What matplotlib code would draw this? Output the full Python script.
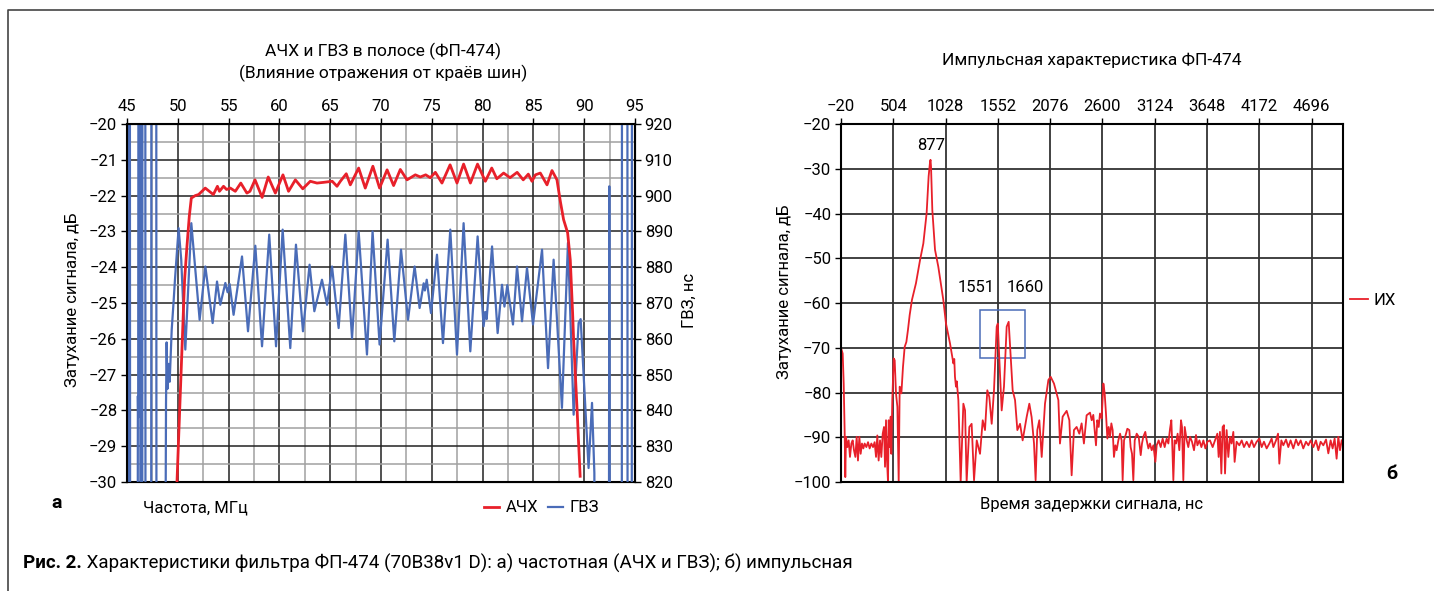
import matplotlib
matplotlib.use('Agg')
import matplotlib.pyplot as plt
from matplotlib.lines import Line2D
from matplotlib.patches import Rectangle
from matplotlib.ticker import MultipleLocator

plt.rcParams['font.family'] = ['Roboto', 'DejaVu Sans']
plt.rcParams['font.size'] = 12

RED = '#e8202a'
BLUE = '#4a6cb8'

# --- left chart: АЧХ (dB) and ГВЗ (ns) vs frequency, MHz
achx_f = [49.92, 50.58, 50.67, 50.90, 51.13, 51.33, 51.72, 52.05, 52.38, 52.70,
          53.10, 53.50, 53.90, 54.10, 54.50, 54.80, 55.17, 55.66, 56.20, 56.80,
          57.10, 57.60, 58.30, 58.90, 59.60, 60.35, 60.90, 61.57, 62.30, 63.04,
          63.70, 64.35, 65.20, 65.67, 66.00, 66.58, 66.98, 67.80, 68.45, 69.20,
          69.86, 70.60, 71.24, 71.90, 72.56, 73.38, 73.87, 74.40, 74.85, 75.35,
          76.00, 76.80, 77.48, 78.13, 78.80, 79.50, 80.27, 80.90, 81.40, 82.07,
          82.70, 83.40, 84.00, 84.50, 84.86, 85.20, 85.68, 86.34, 86.83, 87.32,
          87.65, 87.97, 88.37, 88.63, 88.86, 88.96, 89.30, 89.60]
achx_db = [-30.0, -25.0, -24.35, -23.42, -22.58, -22.07, -22.00, -21.97, -21.88, -21.79,
           -21.88, -21.97, -21.74, -21.88, -21.74, -21.83, -21.79, -21.88, -21.65, -21.93,
           -21.88, -21.56, -22.05, -21.48, -21.93, -21.42, -21.88, -21.56, -21.81, -21.60,
           -21.65, -21.63, -21.60, -21.74, -21.60, -21.39, -21.70, -21.23, -21.79, -21.18,
           -21.79, -21.28, -21.72, -21.27, -21.56, -21.42, -21.48, -21.42, -21.50, -21.35,
           -21.65, -21.14, -21.65, -21.12, -21.65, -21.12, -21.60, -21.23, -21.53, -21.37,
           -21.50, -21.35, -21.56, -21.40, -21.60, -21.42, -21.37, -21.70, -21.30, -21.56,
           -22.16, -22.67, -23.04, -23.80, -25.28, -26.03, -27.98, -29.84]

# off-scale values (960 / 780) give the full-height strokes at the band edges
gvz_f = [45.12, 45.15, 45.28, 45.31, 46.05, 46.07, 46.10, 46.13, 46.30, 46.32,
         46.50, 46.52, 46.80, 46.82, 47.38, 47.40, 47.88, 47.90, 48.76, 48.84,
         48.90, 48.98, 49.10, 49.20, 49.40, 49.60, 49.72, 50.08, 50.34, 50.57,
         50.74, 51.33, 52.15, 52.71, 53.43, 53.86, 54.18, 54.68, 54.90, 55.10,
         55.49, 56.32, 56.91, 57.63, 58.29, 59.00, 59.67, 60.32, 61.07, 61.63,
         62.32, 62.97, 63.44, 64.19, 64.69, 65.18, 65.83, 66.49, 67.15, 67.80,
         68.62, 69.17, 69.86, 70.65, 71.31, 71.97, 72.66, 73.31, 73.80, 74.20,
         74.32, 74.50, 74.92, 75.51, 76.10, 76.82, 77.48, 78.13, 78.79, 79.51,
         80.10, 80.25, 80.40, 80.93, 81.48, 81.91, 82.15, 82.43, 82.99, 83.39,
         83.88, 84.37, 84.96, 85.85, 86.44, 86.99, 87.81, 88.40, 88.96, 89.45,
         89.65, 90.43, 90.77, 91.00, 91.05, 92.43, 92.47, 92.52, 93.70, 93.72,
         94.25, 94.27, 94.68, 94.70]
gvz_ns = [780, 960, 960, 780, 780, 844, 838, 960, 960, 780,
          780, 960, 960, 780, 780, 960, 960, 780, 780, 842,
          859, 846, 853, 848, 862.5, 871, 876.5, 890.9, 882, 867,
          857, 892.3, 865.3, 880.2, 864.4, 876.0, 869.5, 875.6, 873.0, 875.3,
          866.7, 883.0, 862.1, 886.0, 857.9, 889.1, 857.9, 890.5, 857.4, 886.3,
          862.1, 880.7, 867.7, 876.5, 869.5, 880.2, 863.0, 889.1, 860.2, 890.0,
          855.6, 890.0, 858.4, 887.7, 859.3, 884.9, 865.3, 880.2, 868.6, 875.5,
          873.5, 876.5, 867.2, 883.5, 858.8, 890.5, 855.6, 892.3, 856.5, 888.6,
          863.5, 867.5, 865.5, 885.8, 861.6, 875.1, 869.0, 875.0, 864.0, 880.2,
          864.9, 879.8, 864.0, 884.9, 851.8, 882.1, 840.7, 886.8, 838.8, 864.4,
          865.5, 823.9, 842.1, 822.5, 780, 780, 902.6, 780, 780, 960,
          960, 780, 780, 960]

# --- right chart: impulse response, delay ns vs dB
ih_t = [-18, -3, 7, 17, 23, 30, 44, 57, 70, 84, 97, 110, 124, 137, 150, 164, 177, 190,
        204, 217, 234, 251, 267, 284, 301, 317, 331, 344, 357, 371, 384, 398, 411, 421,
        431, 441, 451, 458, 468, 478, 484, 494, 508, 518, 531, 545, 558, 568, 585, 601,
        618, 635, 651, 668, 691,
        731, 772, 805, 838, 858, 872, 877, 882, 895, 922, 955, 1005, 1032, 1072, 1106,
        1115, 1122, 1132, 1140, 1156, 1179, 1206, 1223, 1239, 1266, 1289, 1313, 1340,
        1373, 1400, 1423, 1446, 1466, 1490, 1513, 1540, 1551, 1567, 1590, 1613, 1640,
        1660, 1680, 1700, 1724, 1747, 1774, 1800, 1840, 1867, 1890, 1914, 1930, 1947,
        1967, 1991, 2024, 2058, 2081, 2114, 2158,
        2174, 2201, 2241, 2268, 2291, 2314, 2341, 2368, 2391, 2414, 2441, 2475,
        2492, 2508, 2522, 2535, 2548, 2562, 2575, 2592, 2609, 2622, 2635, 2649, 2662,
        2675, 2689, 2702, 2715, 2729, 2742, 2759, 2776, 2792, 2802, 2816, 2836, 2849,
        2869, 2882, 2896, 2909, 2923, 2943, 2963, 2983, 2996, 3009, 3029, 3043, 3060,
        3076, 3093, 3110, 3130, 3143, 3163, 3183, 3203, 3223, 3243, 3260, 3277, 3290,
        3300, 3310, 3323, 3337, 3353, 3370, 3387, 3397, 3410, 3424, 3444, 3460, 3477,
        3497, 3517, 3537, 3551, 3571, 3591, 3611, 3631, 3651,
        3677, 3704, 3727, 3751, 3764, 3777, 3791, 3804, 3817, 3828, 3844, 3861, 3878,
        3894, 3911, 3924, 3944, 3971, 3995, 4018, 4045, 4071, 4095, 4118, 4145, 4172,
        4195, 4218, 4245, 4272, 4295, 4312, 4339, 4359, 4372, 4392, 4412, 4439, 4462,
        4485, 4512, 4539, 4562, 4586, 4612, 4639, 4663, 4686, 4713, 4739, 4763, 4786,
        4813, 4840, 4863, 4886, 4906, 4926, 4946, 4963, 4980, 4997]
ih_db = [-70.2, -71.3, -78.0, -89.2, -98.9, -89.9, -92.2, -90.7, -94.4, -91.4, -90.7, -92.9,
         -94.4, -89.9, -95.2, -89.9, -93.7, -91.4, -92.5, -91.4, -92.2, -91.1, -92.5, -91.4,
         -92.2, -91.1, -94.4, -89.6, -95.2, -90.7, -94.4, -89.2, -87.7, -96.6, -86.2, -95.2,
         -100.0, -86.2, -92.2, -85.4, -93.7, -81.7, -72.4, -72.8, -80.2, -83.2, -100.0, -78.7,
         -80.2, -74.3, -69.8, -68.7, -66.0, -62.7, -59.3,
         -55.6, -50.4, -46.7, -39.9, -31.7, -28.5, -28.0, -29.5, -39.2, -48.1, -51.9, -59.3,
         -64.6, -69.0, -73.5, -72.5, -76.5, -78.7, -77.5, -81.7, -100.0, -82.5, -84.0, -100.0,
         -87.7, -87.0, -99.6, -90.7, -93.7, -86.2, -88.4, -79.5, -81.0, -87.0, -79.5, -65.3,
         -64.6, -72.8, -84.0, -78.7, -65.3, -64.2, -72.0, -79.5, -81.7, -88.4, -87.0, -90.7,
         -85.5, -82.5, -85.5, -91.4, -99.6, -88.4, -86.2, -94.4, -82.5, -77.2, -76.5, -78.0,
         -81.7,
         -91.4, -85.4, -84.1, -86.2, -98.5, -88.4, -87.7, -89.2, -86.9, -91.4, -85.1, -84.5,
         -86.2, -85.0, -88.4, -91.8, -86.2, -87.7, -84.7, -85.8, -78.0, -80.2, -84.7, -90.3,
         -87.7, -89.9, -86.9, -88.4, -94.4, -91.8, -92.9, -90.7, -89.2, -90.7, -99.6, -90.7,
         -89.2, -88.1, -88.4, -92.2, -93.7, -99.6, -90.7, -89.2, -89.9, -94.0, -91.4, -89.9,
         -88.8, -90.7, -92.5, -91.4, -92.9, -91.8, -95.5, -91.8, -90.7, -92.2, -90.3, -92.2,
         -90.3, -91.4, -88.1, -86.2, -92.2, -99.6, -90.7, -91.4, -89.2, -92.9, -86.2, -87.7,
         -99.6, -87.7, -90.7, -92.2, -89.9, -91.0, -92.9, -89.5, -91.8, -90.7, -92.2, -90.7,
         -92.5, -91.0,
         -90.7, -92.2, -90.7, -89.2, -94.4, -88.8, -98.1, -87.7, -87.3, -98.1, -88.4, -94.4,
         -89.9, -91.4, -88.8, -95.5, -91.0, -91.8, -90.7, -92.2, -91.0, -92.2, -90.7, -92.2,
         -91.0, -90.3, -92.2, -91.0, -92.5, -91.4, -90.3, -92.2, -90.7, -89.2, -95.9, -90.7,
         -91.8, -90.5, -92.2, -90.7, -92.5, -90.5, -91.8, -90.7, -92.5, -91.0, -91.8, -90.7,
         -92.2, -90.7, -92.9, -91.0, -91.8, -90.5, -93.6, -90.7, -92.5, -90.3, -94.8, -89.9,
         -92.9, -90.7]

ih_ticks = [-20, 504, 1028, 1552, 2076, 2600, 3124, 3648, 4172, 4696]
peaks_t = [877, 1551, 1660]
box_t = [1373, 1824]
box_db = [-72.4, -61.6]

W, H = 1434, 591
def fx(px):
    return px / W
def fy(py):
    return 1 - py / H

fig = plt.figure(figsize=(14.34, 5.91), dpi=100)

# ---------------- left chart
ax1 = fig.add_axes([fx(127), fy(482), (635 - 127) / W, (482 - 124) / H])
ax1.set_xlim(45, 95)
ax1.set_ylim(-30, -20)
ax1.xaxis.set_major_locator(MultipleLocator(5))
ax1.xaxis.set_minor_locator(MultipleLocator(2.5))
ax1.yaxis.set_major_locator(MultipleLocator(1))
ax1.yaxis.set_minor_locator(MultipleLocator(0.5))
ax1.tick_params(axis='x', top=True, bottom=False, labeltop=True, labelbottom=False)
ax1.tick_params(which='major', direction='out', length=4, width=1, pad=3, labelsize=12)
ax1.tick_params(which='minor', length=0)
ax1.grid(which='major', color='#222222', lw=1.1)
ax1.grid(which='minor', color='#a0a0a0', lw=1.1)
ax1.set_axisbelow(True)
for s in ax1.spines.values():
    s.set_linewidth(1.5)

ax2 = ax1.twinx()
ax2.set_ylim(820, 920)
ax2.yaxis.set_major_locator(MultipleLocator(10))
ax2.tick_params(direction='out', length=4, width=1, pad=3, labelsize=12)
ax2.spines['right'].set_linewidth(1.5)
l_gvz, = ax2.plot(gvz_f, gvz_ns, color=BLUE, lw=1.6)

ax3 = ax1.twinx()
ax3.set_ylim(-30, -20)
ax3.set_axis_off()
l_achx, = ax3.plot(achx_f, achx_db, color=RED, lw=2)

fig.text(fx(383), fy(51), 'АЧХ и ГВЗ в полосе (ФП-474)', ha='center', va='center', fontsize=12.5)
fig.text(fx(383), fy(73), '(Влияние отражения от краёв шин)', ha='center', va='center', fontsize=12.5)
fig.text(fx(73), fy(300), 'Затухание сигнала, дБ', rotation=90, ha='center', va='center', fontsize=12)
fig.text(fx(689), fy(300), 'ГВЗ, нс', rotation=90, ha='center', va='center', fontsize=12)
fig.text(fx(143), fy(508), 'Частота, МГц', ha='left', va='center', fontsize=12)
fig.text(fx(57), fy(503), 'а', ha='center', va='center', fontsize=14, fontweight='bold')
fig.legend([l_achx, l_gvz], ['АЧХ', 'ГВЗ'], loc='center left',
           bbox_to_anchor=(fx(484), fy(508)), ncol=2, frameon=False,
           handlelength=0.9, handletextpad=0.4, columnspacing=0.6,
           borderpad=0, borderaxespad=0, fontsize=12)

# ---------------- right chart
axr = fig.add_axes([fx(841), fy(482), (1343 - 841) / W, (482 - 124) / H])
axr.set_xlim(-20, 5010)
axr.set_ylim(-100, -20)
axr.set_xticks(ih_ticks)
axr.yaxis.set_major_locator(MultipleLocator(10))
axr.tick_params(axis='x', top=True, bottom=False, labeltop=True, labelbottom=False)
axr.tick_params(direction='out', length=4, width=1, pad=3, labelsize=12)
axr.grid(color='#333333', lw=1.3)
axr.set_axisbelow(True)
for s in axr.spines.values():
    s.set_linewidth(1.5)
l_ih, = axr.plot(ih_t, ih_db, color=RED, lw=1.3)
axr.add_patch(Rectangle((box_t[0], box_db[0]), box_t[1] - box_t[0], box_db[1] - box_db[0],
                        fill=False, edgecolor=BLUE, lw=1.1))
axr.text(peaks_t[0] + 4, -24.8, str(peaks_t[0]), ha='center', va='center', fontsize=12)
axr.text(peaks_t[1] - 220, -56.6, str(peaks_t[1]), ha='center', va='center', fontsize=12)
axr.text(peaks_t[2] + 170, -56.6, str(peaks_t[2]), ha='center', va='center', fontsize=12)
axr.legend([l_ih], ['ИХ'], loc='center left', bbox_to_anchor=(1.0, 0.508),
           frameon=False, handlelength=1.1, handletextpad=0.3, borderpad=0,
           borderaxespad=0.4, fontsize=12)

fig.text(fx(1092), fy(60), 'Импульсная характеристика ФП-474', ha='center', va='center', fontsize=12.5)
fig.text(fx(785), fy(292), 'Затухание сигнала, дБ', rotation=90, ha='center', va='center', fontsize=12)
fig.text(fx(1092), fy(505), 'Время задержки сигнала, нс', ha='center', va='center', fontsize=12)
fig.text(fx(1392), fy(474), 'б', ha='center', va='center', fontsize=14, fontweight='bold')

# caption and frame
cap = fig.text(fx(23), fy(563), 'Рис. 2.', ha='left', va='center', fontsize=13.5, fontweight='bold')
ax1.annotate(' Характеристики фильтра ФП-474 (70B38v1 D): а) частотная (АЧХ и ГВЗ); б) импульсная',
             xy=(1, 0.5), xycoords=cap, ha='left', va='center', fontsize=13.5,
             annotation_clip=False)
fig.add_artist(Line2D([fx(8), fx(8), fx(1434)], [0, fy(10), fy(10)], color='#444444', lw=1.2))

fig.savefig('out.png', dpi=100)
